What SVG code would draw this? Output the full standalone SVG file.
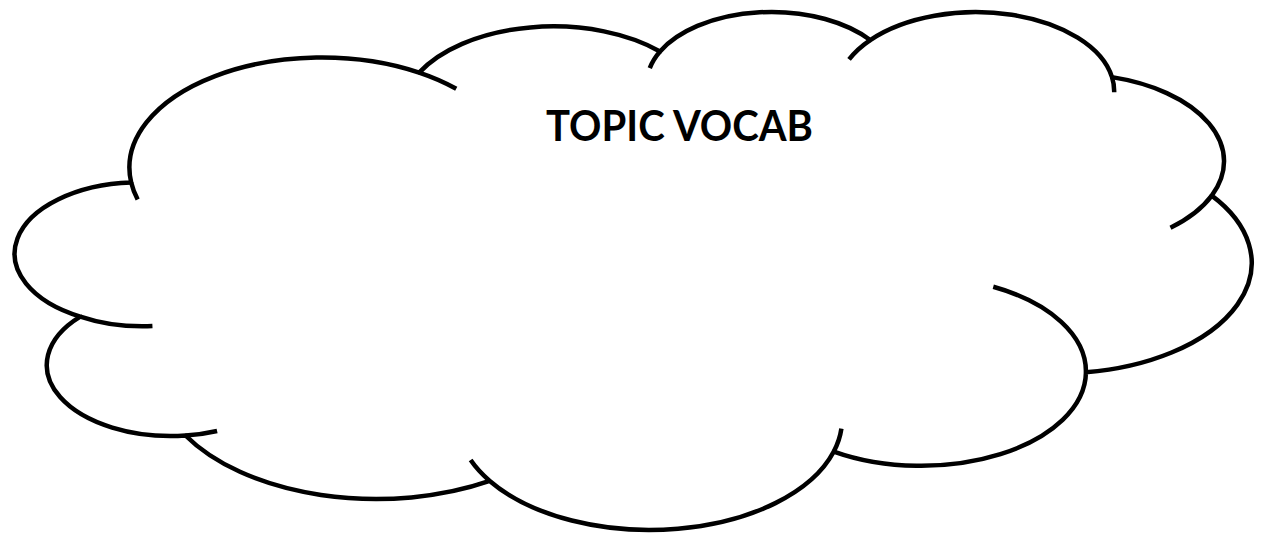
<svg xmlns="http://www.w3.org/2000/svg" width="1274" height="535" viewBox="0 0 1274 535">
  <style>
    .cloud-line { fill: none; stroke: #000000; stroke-width: 4.5; stroke-linejoin: round; stroke-linecap: butt; vector-effect: non-scaling-stroke; }
    .label { font-family: Lato, "Open Sans", "Liberation Sans", sans-serif; font-weight: 700; font-size: 42.5px; fill: #000000; }
  </style>
  <rect x="0" y="0" width="1274" height="535" fill="#ffffff"/>
  <g id="node-topic-vocab">
    <g transform="translate(20.06,10.3) scale(0.028497,0.011986)">
      <path class="cloud-line" style="fill:#ffffff" d="M 3900 14370
        A 6753 9190 0 0 1 14004 5201
        A 5333 7267 0 0 1 22456.6 3433
        A 4365 5945 0 0 1 29833.4 2481.1
        A 4857 6595 0 0 1 38317.8 5577.5
        A 5333 7273 0 0 1 41818.2 15461
        A 6775 9220 0 0 1 37403.3 30202.9
        A 5785 7867 0 0 1 28555.2 36813.4
        A 6752 9215 0 0 1 16481.1 39266.5
        A 7720 10543 0 0 1 5805.7 35475.3
        A 4360 5918 0 0 1 2113.9 25553.8
        A 4345 5945 0 0 1 3900 14370 Z"/>
      <path class="cloud-line" d="M 4645.1 26349.2 A 4345 5945 0 0 1 2113.9 25553.8
        M 6914.3 35093.8 A 4360 5918 0 0 1 5805.7 35475.3
        M 16481.1 39266.5 A 6752 9215 0 0 1 15811.5 37522.3
        M 28821.9 34903.8 A 6752 9215 0 0 1 28555.2 36813.4
        M 34151.5 23067.1 A 5785 7867 0 0 1 37403.3 30202.9
        M 41818.2 15461 A 5333 7273 0 0 1 40369.4 18137.9
        M 38317.8 5577.5 A 4857 6595 0 0 1 38394.2 6841.6
        M 29091 4093.9 A 4857 6595 0 0 1 29833.4 2481.1
        M 22097.5 4822.5 A 4365 5945 0 0 1 22456.6 3433
        M 14004 5201 A 6753 9190 0 0 1 15306.1 6551.8
        M 4127 15789 A 6753 9190 0 0 1 3900 14370"/>
    </g>
    <text class="label" x="546" y="141" textLength="267" lengthAdjust="spacingAndGlyphs">TOPIC VOCAB</text>
  </g>
</svg>
